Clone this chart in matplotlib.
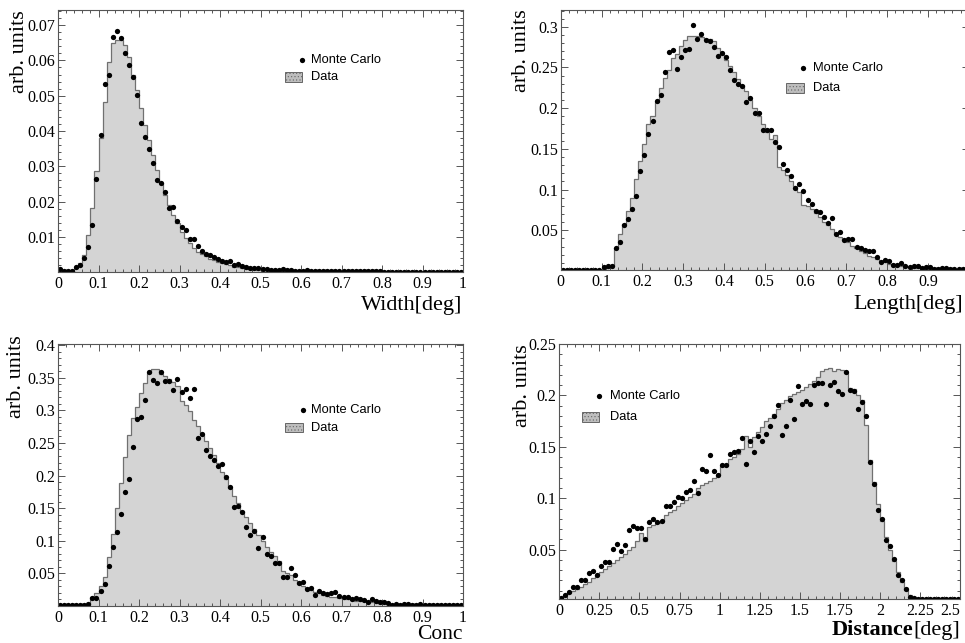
import numpy as np
import matplotlib
matplotlib.use('Agg')
import matplotlib.pyplot as plt
from matplotlib.ticker import AutoMinorLocator, FuncFormatter
from matplotlib.patches import Rectangle

# ---- Width ----
width_edges = np.linspace(0, 1, 101)
width_data = [0.0003, 0.0003, 0.0003, 0.0003, 0.0012, 0.0025, 0.0050, 0.0106, 0.0181, 0.0287,
              0.0379, 0.0481, 0.0596, 0.0648, 0.0658, 0.0658, 0.0643, 0.0610, 0.0558, 0.0516,
              0.0464, 0.0417, 0.0374, 0.0332, 0.0290, 0.0252, 0.0219, 0.0190, 0.0162, 0.0139,
              0.0115, 0.0096, 0.0082, 0.0068, 0.0058, 0.0052, 0.0045, 0.0038, 0.0034, 0.0030,
              0.0026, 0.0022, 0.0019, 0.0016, 0.0014, 0.0012, 0.0010, 0.0009, 0.0008, 0.0007,
              0.0006, 0.0005, 0.0005, 0.0004, 0.0004, 0.0004, 0.0003, 0.0003, 0.0003, 0.0003,
              0.0003, 0.0003, 0.0003, 0.0002, 0.0002, 0.0002, 0.0002, 0.0002, 0.0002, 0.0002,
              0.0002, 0.0002, 0.0002, 0.0002, 0.0002, 0.0002, 0.0002, 0.0002, 0.0002, 0.0002,
              0.0002, 0.0002, 0.0002, 0.0002, 0.0002, 0.0002, 0.0002, 0.0002, 0.0002, 0.0002,
              0.0002, 0.0002, 0.0002, 0.0002, 0.0002, 0.0002, 0.0002, 0.0002, 0.0002, 0.0002]
width_mc = [0.00085, 0.0003, 0.0003, 0.0003, 0.0016, 0.0021, 0.0040, 0.0071, 0.0134, 0.0263,
            0.0390, 0.0532, 0.0560, 0.0667, 0.0683, 0.0664, 0.0621, 0.0586, 0.0554, 0.0502,
            0.0422, 0.0383, 0.0349, 0.0310, 0.0261, 0.0254, 0.0226, 0.0183, 0.0186, 0.0144,
            0.0127, 0.0120, 0.0093, 0.0094, 0.0074, 0.0061, 0.0052, 0.0049, 0.0043, 0.0038,
            0.0031, 0.0029, 0.0033, 0.0020, 0.0024, 0.0017, 0.0015, 0.0013, 0.0012, 0.0011,
            0.0010, 0.0008, 0.0007, 0.0006, 0.0005, 0.0008, 0.0005, 0.0005, 0.0004, 0.0004,
            0.0004, 0.0006, 0.0003, 0.0003, 0.0003, 0.0003, 0.0003, 0.0003, 0.0003, 0.0003,
            0.0003, 0.0003, 0.0003, 0.0003, 0.0003, 0.0003, 0.0003, 0.0003, 0.0003, 0.0003,
            0.0002, 0.0002, 0.0002, 0.0002, 0.0002, 0.0002, 0.0002, 0.0002, 0.0002, 0.0002,
            0.0002, 0.0002, 0.0002, 0.0002, 0.0002, 0.0002, 0.0002, 0.0002, 0.0002, 0.0002]

# ---- Length ----
length_edges = np.linspace(0, 1, 101)
length_data = [0.0008, 0.0008, 0.0008, 0.0008, 0.0008, 0.0008, 0.0008, 0.0008, 0.0008, 0.0008,
               0.002, 0.004, 0.006, 0.028, 0.046, 0.058, 0.074, 0.090, 0.113, 0.135,
               0.156, 0.180, 0.190, 0.208, 0.225, 0.237, 0.247, 0.2615, 0.266, 0.276,
               0.284, 0.289, 0.289, 0.289, 0.287, 0.285, 0.285, 0.283, 0.274, 0.267,
               0.259, 0.252, 0.245, 0.236, 0.229, 0.221, 0.210, 0.200, 0.190, 0.181,
               0.171, 0.162, 0.167, 0.128, 0.124, 0.118, 0.111, 0.104, 0.097, 0.081,
               0.080, 0.076, 0.071, 0.066, 0.060, 0.056, 0.051, 0.047, 0.042, 0.038,
               0.035, 0.031, 0.028, 0.025, 0.022, 0.019, 0.017, 0.015, 0.012, 0.011,
               0.009, 0.008, 0.007, 0.006, 0.005, 0.0045, 0.004, 0.0035, 0.003, 0.0028,
               0.0025, 0.0022, 0.002, 0.002, 0.0018, 0.0018, 0.0016, 0.0015, 0.0015, 0.0014]
length_mc = [0.0008, 0.0008, 0.0008, 0.0008, 0.0008, 0.0008, 0.0008, 0.0008, 0.0008, 0.0008,
             0.0053, 0.006, 0.006, 0.028, 0.036, 0.0566, 0.064, 0.076, 0.092, 0.123,
             0.142, 0.168, 0.184, 0.209, 0.2156, 0.245, 0.269, 0.272, 0.248, 0.263,
             0.271, 0.2725, 0.302, 0.285, 0.2906, 0.2836, 0.283, 0.275, 0.264, 0.2676,
             0.263, 0.2475, 0.235, 0.230, 0.2275, 0.208, 0.213, 0.194, 0.194, 0.173,
             0.173, 0.1734, 0.158, 0.1525, 0.1316, 0.124, 0.117, 0.1025, 0.107, 0.098,
             0.0873, 0.082, 0.0738, 0.072, 0.066, 0.0594, 0.065, 0.0455, 0.0475, 0.0385,
             0.039, 0.0398, 0.030, 0.028, 0.0254, 0.025, 0.025, 0.0168, 0.0107, 0.0135,
             0.0123, 0.0074, 0.0074, 0.0094, 0.006, 0.0053, 0.0066, 0.0066, 0.0033, 0.005,
             0.005, 0.0025, 0.003, 0.0033, 0.0033, 0.003, 0.003, 0.003, 0.003, 0.0025]

# ---- Conc ----
conc_edges = np.linspace(0, 1, 101)
conc_data = [0.0008, 0.0008, 0.0008, 0.0008, 0.0008, 0.0008, 0.0008, 0.002, 0.013, 0.019,
             0.030, 0.045, 0.075, 0.111, 0.150, 0.188, 0.228, 0.263, 0.288, 0.306,
             0.327, 0.342, 0.358, 0.363, 0.363, 0.356, 0.353, 0.348, 0.343, 0.338,
             0.314, 0.308, 0.299, 0.286, 0.276, 0.263, 0.253, 0.242, 0.232, 0.219,
             0.206, 0.194, 0.181, 0.169, 0.158, 0.145, 0.137, 0.127, 0.118, 0.108,
             0.099, 0.091, 0.083, 0.076, 0.069, 0.053, 0.050, 0.047, 0.040, 0.034,
             0.030, 0.027, 0.024, 0.021, 0.019, 0.017, 0.015, 0.014, 0.013, 0.012,
             0.011, 0.010, 0.009, 0.008, 0.0075, 0.007, 0.006, 0.0055, 0.005, 0.0045,
             0.004, 0.0035, 0.003, 0.0025, 0.002, 0.002, 0.0015, 0.0015, 0.0015, 0.0012,
             0.0012, 0.0012, 0.001, 0.001, 0.001, 0.001, 0.0008, 0.0008, 0.0008, 0.0008]
conc_mc = [0.0008, 0.0008, 0.0008, 0.0008, 0.0008, 0.0008, 0.0008, 0.003, 0.0126, 0.0126,
           0.0228, 0.0336, 0.0618, 0.0905, 0.1126, 0.141, 0.175, 0.1946, 0.2437, 0.2868,
           0.290, 0.3156, 0.3597, 0.3474, 0.342, 0.3597, 0.3457, 0.3452, 0.3308, 0.348,
           0.329, 0.333, 0.3196, 0.3334, 0.2575, 0.264, 0.2396, 0.2294, 0.2232, 0.214,
           0.218, 0.1976, 0.1823, 0.1515, 0.154, 0.1437, 0.1207, 0.1089, 0.1145, 0.089,
           0.1063, 0.0792, 0.0772, 0.0664, 0.0664, 0.0449, 0.0449, 0.0577, 0.0474, 0.0346,
           0.0361, 0.0264, 0.027, 0.0162, 0.0228, 0.0203, 0.0182, 0.0193, 0.0213, 0.0151,
           0.0141, 0.0131, 0.011, 0.0126, 0.010, 0.009, 0.0064, 0.0105, 0.0074, 0.0059,
           0.0064, 0.0044, 0.0018, 0.0028, 0.0018, 0.0023, 0.0028, 0.0018, 0.0013, 0.0023,
           0.0008, 0.0008, 0.0008, 0.0008, 0.0008, 0.0008, 0.0008, 0.0008, 0.0008, 0.0008]

# ---- Distance ----
dist_edges = np.linspace(0, 2.5, 101)
dist_data = [0.003, 0.006, 0.008, 0.010, 0.012, 0.014, 0.017, 0.019, 0.022, 0.025,
             0.028, 0.031, 0.034, 0.037, 0.040, 0.043, 0.046, 0.050, 0.053, 0.058,
             0.066, 0.058, 0.072, 0.074, 0.076, 0.078, 0.084, 0.087, 0.089, 0.092,
             0.095, 0.098, 0.101, 0.104, 0.110, 0.113, 0.115, 0.117, 0.120, 0.123,
             0.131, 0.131, 0.138, 0.140, 0.143, 0.148, 0.161, 0.150, 0.160, 0.164,
             0.169, 0.175, 0.178, 0.182, 0.187, 0.193, 0.196, 0.199, 0.201, 0.203,
             0.205, 0.208, 0.211, 0.214, 0.218, 0.224, 0.226, 0.227, 0.224, 0.226,
             0.225, 0.222, 0.207, 0.206, 0.200, 0.196, 0.171, 0.137, 0.116, 0.094,
             0.078, 0.062, 0.050, 0.039, 0.028, 0.019, 0.011, 0.006, 0.003, 0.002,
             0.0018, 0.0017, 0.0016, 0.0015, 0.0015, 0.0015, 0.0015, 0.0015, 0.0015, 0.0015]
dist_mc = [0.0033, 0.0062, 0.009, 0.014, 0.0137, 0.0207, 0.0207, 0.0272, 0.0292, 0.0256,
           0.0344, 0.038, 0.038, 0.0503, 0.0558, 0.0486, 0.0542, 0.069, 0.073, 0.0714,
           0.0707, 0.060, 0.0769, 0.0795, 0.0772, 0.0778, 0.0924, 0.0924, 0.0963, 0.1015,
           0.1005, 0.1064, 0.108, 0.1164, 0.1054, 0.128, 0.1268, 0.142, 0.1268, 0.1222,
           0.1322, 0.1319, 0.1429, 0.1449, 0.1455, 0.1588, 0.1332, 0.1556, 0.1449, 0.1604,
           0.1559, 0.1624, 0.1702, 0.1802, 0.1903, 0.1611, 0.1702, 0.1952, 0.1773, 0.2091,
           0.1916, 0.1945, 0.1919, 0.2098, 0.2124, 0.2121, 0.1919, 0.2098, 0.213, 0.2039,
           0.2016, 0.2224, 0.2049, 0.2045, 0.1864, 0.1938, 0.1802, 0.1352, 0.1141, 0.0886,
           0.0795, 0.0591, 0.0539, 0.0413, 0.0254, 0.0202, 0.0118, 0.0037, 0.0027, 0.002,
           0.002, 0.0018, 0.0018, 0.0018, 0.0018, 0.0018, 0.0018, 0.0018, 0.0018, 0.0018]

unit_ticks = [0, 0.1, 0.2, 0.3, 0.4, 0.5, 0.6, 0.7, 0.8, 0.9, 1]
dist_ticks = [0, 0.25, 0.5, 0.75, 1, 1.25, 1.5, 1.75, 2, 2.25, 2.5]

W, H = 965, 643
SERIF = 'Liberation Serif'
SANS = 'Liberation Sans'
plt.rcParams['hatch.linewidth'] = 0.4

fig = plt.figure(figsize=(W / 100, H / 100), dpi=100)


def px_axes(left, top, right, bottom):
    return fig.add_axes([left / W, 1 - bottom / H, (right - left) / W, (bottom - top) / H])


def draw_panel(ax, edges, data, mc, ylim, yticks, xticks):
    centers = 0.5 * (edges[:-1] + edges[1:])
    ax.stairs(data, edges, fill=True, color='#d4d4d4', lw=0)
    ax.stairs(data, edges, color='#707070', lw=0.9)
    ax.plot(centers, mc, 'o', color='black', ms=3.8, mec='none')
    ax.set_xlim(edges[0], edges[-1])
    ax.set_ylim(*ylim)
    ax.set_yticks(yticks)
    ax.set_xticks(xticks)
    ax.xaxis.set_minor_locator(AutoMinorLocator(5))
    ax.yaxis.set_minor_locator(AutoMinorLocator(5))
    fmt = FuncFormatter(lambda v, p: '%g' % round(v, 4))
    ax.xaxis.set_major_formatter(fmt)
    ax.yaxis.set_major_formatter(fmt)
    ax.tick_params(which='both', direction='in', top=True, right=True, color='#555555', width=0.7)
    ax.tick_params(which='major', length=5)
    ax.tick_params(which='minor', length=2.5)
    ax.tick_params(axis='x', pad=3)
    ax.tick_params(axis='y', pad=2)
    for lab in ax.get_xticklabels() + ax.get_yticklabels():
        lab.set_fontfamily(SERIF)
        lab.set_fontsize(11.5)
    for sp in ax.spines.values():
        sp.set_color('#555555')
        sp.set_linewidth(0.8)
    ax.set_ylabel('arb. units', loc='top', fontfamily=SERIF, fontsize=16)


def draw_legend(ax, mx, my, bx, by, bw, bh, tx, dy):
    ax.plot([mx], [my], 'o', color='black', ms=3.8, mec='none', transform=ax.transAxes, clip_on=False)
    ax.add_patch(Rectangle((bx, by), bw, bh, transform=ax.transAxes, facecolor='#bdbdbd',
                           edgecolor='#666666', lw=0.7, hatch='.....', clip_on=False))
    ax.text(tx, my, 'Monte Carlo', transform=ax.transAxes, va='center', ha='left',
            fontfamily=SANS, fontsize=9.3)
    ax.text(tx, dy, 'Data', transform=ax.transAxes, va='center', ha='left',
            fontfamily=SANS, fontsize=9.3)


ax1 = px_axes(58, 10.3, 463, 271.5)
draw_panel(ax1, width_edges, width_data, width_mc, (0.0002, 0.0742),
           [0.01, 0.02, 0.03, 0.04, 0.05, 0.06, 0.07], unit_ticks)
draw_legend(ax1, 0.602, 0.810, 0.560, 0.724, 0.0437, 0.0383, 0.624, 0.746)
ax1.yaxis.set_label_coords(-0.072, 1.0)

# right edge of this panel runs past the figure, so its last label ("1") is not shown
ax2 = px_axes(560.7, 9.7, 968.7, 270)
draw_panel(ax2, length_edges, length_data, length_mc, (0.0012, 0.321),
           [0.05, 0.1, 0.15, 0.2, 0.25, 0.3], unit_ticks)
ax2.get_xticklabels()[-1].set_visible(False)
draw_legend(ax2, 0.595, 0.777, 0.552, 0.680, 0.044, 0.0384, 0.618, 0.699)
ax2.yaxis.set_label_coords(-0.073, 1.0)

ax3 = px_axes(58, 344.3, 463, 605.7)
draw_panel(ax3, conc_edges, conc_data, conc_mc, (0.0002, 0.4015),
           [0.05, 0.1, 0.15, 0.2, 0.25, 0.3, 0.35, 0.4], unit_ticks)
draw_legend(ax3, 0.605, 0.749, 0.561, 0.665, 0.043, 0.033, 0.625, 0.681)
ax3.yaxis.set_label_coords(-0.080, 1.035)

ax4 = px_axes(559.3, 344, 960.1, 599.3)
draw_panel(ax4, dist_edges, dist_data, dist_mc, (0.0017, 0.25),
           [0.05, 0.1, 0.15, 0.2, 0.25], dist_ticks)
# keep the "2.5" label inside the figure
ax4.get_xticklabels()[-1].set_horizontalalignment('right')
draw_legend(ax4, 0.0998, 0.796, 0.0566, 0.696, 0.0424, 0.038, 0.1255, 0.715)
ax4.yaxis.set_label_coords(-0.068, 1.0)

# x axis titles, right-aligned under each panel
fig.text(462 / W, 1 - 310 / H, 'Width[deg]', ha='right', va='baseline', fontfamily=SERIF, fontsize=16)
fig.text(963 / W, 1 - 309 / H, 'Length[deg]', ha='right', va='baseline', fontfamily=SERIF, fontsize=16)
fig.text(463 / W, 1 - 639 / H, 'Conc', ha='right', va='baseline', fontfamily=SERIF, fontsize=15.5)
deg = fig.text(960 / W, 1 - 635 / H, '[deg]', ha='right', va='baseline', fontfamily=SERIF, fontsize=16)
plt.annotate('Distance', xy=(0, 1 - 635 / H), xycoords=(deg, 'figure fraction'),
             ha='right', va='baseline', fontfamily=SERIF, fontsize=16, fontweight='bold')

fig.savefig('out.png', dpi=100)
